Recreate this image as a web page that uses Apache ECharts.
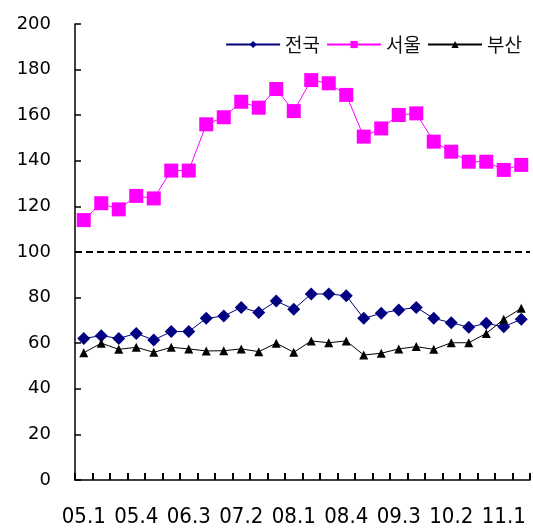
<!DOCTYPE html>
<html><head><meta charset="utf-8">
<script src="https://cdn.jsdelivr.net/npm/echarts@6/dist/echarts.min.js"></script>
<style>html,body{margin:0;padding:0;background:#fff}#c{width:533px;height:528px}</style>
</head><body><div id="c"></div>
<script>
var categories = ['05.1','05.2','05.3','05.4','06.1','06.2','06.3','06.4','07.1','07.2','07.3','07.4','08.1','08.2','08.3','08.4','09.1','09.2','09.3','09.4','10.1','10.2','10.3','10.4','11.1','11.2'];
var national = [62.1,63.3,62.1,64.3,61.4,65.1,65.1,70.9,71.9,75.7,73.5,78.5,74.9,81.6,81.6,80.8,70.9,73.1,74.6,75.7,70.9,69.0,67.0,68.7,67.2,70.5];
var seoul = [114.0,121.4,118.7,124.6,123.5,135.7,135.7,156.0,159.1,165.9,163.3,171.5,161.8,175.4,174.0,168.9,150.6,154.2,160.1,160.8,148.4,144.0,139.6,139.6,136.0,138.2];
var busan = [55.8,60.0,57.3,58.2,56.0,58.2,57.5,56.6,56.7,57.5,56.3,60.0,56.0,61.0,60.2,61.0,54.8,55.6,57.5,58.5,57.3,60.2,60.2,64.3,70.5,75.3];
var yTicks = {min:0, max:200, interval:20};
var refLine = 100;

var chart = echarts.init(document.getElementById('c'), null, {renderer:'canvas'});
chart.setOption({
  animation:false,
  backgroundColor:'#fff',
  grid:{left:75, right:3, top:24, bottom:48, containLabel:false},
  legend:{
    right:6, top:30, itemWidth:54, itemHeight:9, itemGap:6,
    textStyle:{fontFamily:'Noto Sans CJK KR', fontSize:19, color:'#111'},
    data:['전국','서울','부산']
  },
  xAxis:{
    type:'category', data:categories, boundaryGap:true,
    axisLine:{show:true, onZero:false, lineStyle:{color:'#000', width:1.5}},
    axisTick:{show:true, inside:true, length:7, interval:0, lineStyle:{color:'#000', width:2}},
    axisLabel:{interval:2, margin:26, color:'#000', fontFamily:'Liberation Sans Narrow, DejaVu Sans Condensed, DejaVu Sans', fontSize:22},
    splitLine:{show:false}
  },
  yAxis:{
    type:'value', min:yTicks.min, max:yTicks.max, interval:yTicks.interval,
    axisLine:{show:true, lineStyle:{color:'#000', width:1.5}},
    axisTick:{show:true, inside:true, length:6, lineStyle:{color:'#000', width:1.5}},
    axisLabel:{margin:24, color:'#000', fontFamily:'DejaVu Sans', fontSize:18},
    splitLine:{show:false}
  },
  series:[
    {name:'전국', type:'line', data:national, symbol:'diamond', symbolSize:13, showAllSymbol:true,
     itemStyle:{color:'#000080'}, lineStyle:{color:'#000080', width:1},
     markLine:{silent:true, symbol:'none', label:{show:false},
       lineStyle:{color:'#000', width:2, type:[7,4]}, data:[{yAxis:refLine}]}},
    {name:'서울', type:'line', data:seoul, symbol:'rect', symbolSize:14, showAllSymbol:true,
     itemStyle:{color:'#ff00ff'}, lineStyle:{color:'#ff00ff', width:1}},
    {name:'부산', type:'line', data:busan, symbol:'triangle', symbolSize:9, showAllSymbol:true,
     itemStyle:{color:'#000'}, lineStyle:{color:'#000', width:1}}
  ]
});
</script></body></html>
